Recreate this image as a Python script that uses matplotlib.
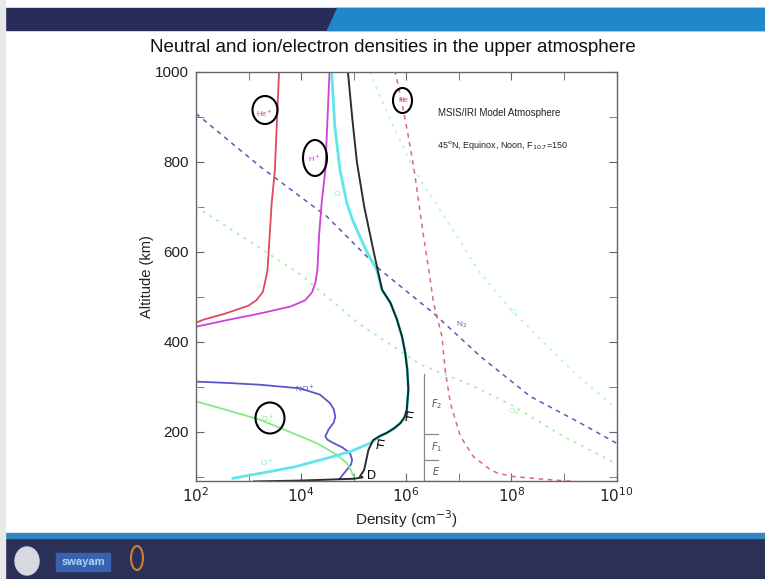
import matplotlib
matplotlib.use("Agg")
import matplotlib.pyplot as plt
import matplotlib.patches as mpatches
from matplotlib.ticker import FixedLocator, NullFormatter, FuncFormatter
import numpy as np

plt.rcParams['font.family'] = ['Liberation Sans', 'DejaVu Sans']

# ---------------- data (log10 density [cm^-3], altitude [km]) ----------------
ne_log = [3.1, 4.0, 5.0, 5.17, 5.12, 5.20, 5.28, 5.37, 5.50, 5.63, 5.78, 5.89, 5.97, 6.01, 6.04, 6.03, 6.02, 5.98, 5.92, 5.82, 5.70, 5.54, 5.38, 5.20, 5.06, 4.97, 4.89]
ne_alt = [89, 91, 95, 98, 100, 115, 159, 181, 190, 197, 208, 219, 232, 248, 293, 315, 337, 375, 411, 450, 486, 515, 600, 700, 800, 900, 1000]

op_log = [2.7, 3.27, 3.9, 4.5, 4.95, 5.33, 5.50, 5.63, 5.78, 5.89, 5.97, 6.01, 6.04, 6.03, 6.02, 5.98, 5.92, 5.82, 5.70, 5.54, 5.44, 5.27, 5.12, 4.98, 4.87, 4.74, 4.64, 4.58]
op_alt = [96, 108, 122, 141, 156, 175, 190, 197, 208, 219, 232, 248, 293, 315, 337, 375, 411, 450, 486, 515, 559, 595, 633, 670, 708, 781, 880, 1000]

hep_log = [2.0, 2.15, 2.55, 3.0, 3.15, 3.27, 3.31, 3.36, 3.40, 3.44, 3.50, 3.58]
hep_alt = [442, 449, 462, 480, 492, 510, 530, 559, 633, 708, 781, 1000]

hp_log = [2.0, 2.6, 3.2, 3.8, 4.08, 4.21, 4.27, 4.31, 4.34, 4.39, 4.46, 4.54]
hp_alt = [433, 448, 462, 478, 492, 510, 530, 559, 633, 708, 781, 1000]

nop_log = [4.74, 4.87, 4.95, 4.97, 4.93, 4.78, 4.62, 4.50, 4.46, 4.52, 4.62, 4.65, 4.62, 4.55, 4.36, 3.98, 3.22, 2.6, 2.0]
nop_alt = [96, 115, 127, 137, 152, 165, 174, 182, 189, 204, 220, 233, 250, 263, 282, 296, 304, 308, 311]

o2p_log = [5.0, 4.94, 4.87, 4.68, 4.30, 3.85, 3.22, 2.58, 2.0]
o2p_alt = [100, 116, 130, 148, 174, 196, 226, 248, 267]

he_log = [9.3, 8.6, 8.04, 7.75, 7.6, 7.28, 7.03, 6.84, 6.74, 6.68, 6.52, 6.43, 6.33, 6.24, 6.15, 6.04, 5.92, 5.79]
he_alt = [88, 94, 100, 107, 115, 144, 189, 263, 337, 411, 485, 559, 633, 708, 782, 856, 930, 1000]

n2_log = [2.0, 3.22, 4.49, 5.5, 6.52, 7.41, 8.36, 9.31, 10.0]
n2_alt = [907, 789, 678, 560, 463, 367, 278, 219, 174]

o_log = [5.3, 5.75, 6.15, 7.05, 7.36, 8.0, 8.6, 9.2, 10.0]
o_alt = [1000, 880, 781, 619, 559, 470, 400, 330, 250]

o2_log = [2.0, 3.98, 5.12, 6.27, 7.22, 8.05, 8.93, 9.92]
o2_alt = [700, 550, 438, 349, 304, 256, 193, 133]

x_tick_exps = [2, 4, 6, 8, 10]
y_ticks = [200, 400, 600, 800, 1000]
layer_names = ["$E$", "$F_1$", "$F_2$"]
layer_bounds = [90, 136, 195, 328]

W, H = 765, 579
fig = plt.figure(figsize=(W / 100, H / 100), dpi=100)
fig.patch.set_facecolor("white")


def fx(px):
    return px / W


def fy(py):
    return 1 - py / H


# ---------------- slide decoration ----------------
fig.patches.append(mpatches.Rectangle((0, fy(30)), 1, (30 - 8) / H, transform=fig.transFigure,
                                      color="#272d58", zorder=0))
fig.patches.append(mpatches.Polygon([(fx(337), fy(8)), (fx(765), fy(8)), (fx(765), fy(30)), (fx(327), fy(30))],
                                    closed=True, transform=fig.transFigure, color="#2088c8", zorder=0))
fig.patches.append(mpatches.Rectangle((0, fy(579)), 1, (579 - 537) / H, transform=fig.transFigure,
                                      color="#2b3058", zorder=0))
fig.patches.append(mpatches.Rectangle((0, fy(538)), 1, 5 / H, transform=fig.transFigure,
                                      color="#2f86c0", zorder=0))
fig.patches.append(mpatches.Rectangle((0, 0), 5 / W, 1, transform=fig.transFigure,
                                      color="#e8e8e8", zorder=0))
fig.patches.append(mpatches.Ellipse((fx(27), fy(561)), 24 / W, 28 / H, transform=fig.transFigure,
                                    color="#d8d8e0", zorder=1))
fig.patches.append(mpatches.Rectangle((fx(56), fy(571)), 54 / W, 18 / H, transform=fig.transFigure,
                                      color="#3a60b0", zorder=1))
fig.text(fx(83), fy(562), "swayam", color="#a8d8ff", fontsize=8, ha="center", va="center", fontweight="bold")
fig.patches.append(mpatches.Ellipse((fx(137), fy(558)), 12 / W, 24 / H, transform=fig.transFigure,
                                    fill=False, ec="#d08030", lw=1.5, zorder=1))

fig.text(0.514, fy(47), "Neutral and ion/electron densities in the upper atmosphere",
         ha="center", va="center", fontsize=13.5, color="#111111")

# ---------------- axes ----------------
ax = fig.add_axes([fx(196), fy(481), (616.5 - 196) / W, (481 - 71.7) / H])
ax.set_xscale("log")
ax.set_xlim(1e2, 1e10)
ax.set_ylim(90, 1000)


def P(lg):
    return 10 ** np.asarray(lg, dtype=float)


ax.plot(P(o_log), o_alt, color="#b0f4f4", lw=1.3, ls=(0, (1.5, 3)))
ax.plot(P(o2_log), o2_alt, color="#aaeeaa", lw=1.3, ls=(0, (1.5, 3)))
ax.plot(P(n2_log), n2_alt, color="#5a5ab8", lw=1.1, ls=(0, (3, 3)))
ax.plot(P(he_log), he_alt, color="#e06585", lw=1.1, ls=(0, (3, 3)))
ax.plot(P(hep_log), hep_alt, color="#e04860", lw=1.3)
ax.plot(P(hp_log), hp_alt, color="#d040d8", lw=1.3)
ax.plot(P(nop_log), nop_alt, color="#5858c8", lw=1.3)
ax.plot(P(o2p_log), o2p_alt, color="#88e888", lw=1.3)
ax.plot(P(op_log), op_alt, color="#60e6e6", lw=2.0)
ax.plot(P(ne_log), ne_alt, color="black", lw=1.4, alpha=0.82)

# layer brackets
xl = 10 ** (2 + (423.3 - 196) / 52.5)
xr = 10 ** (2 + (438 - 196) / 52.5)
ax.plot([xl, xl], [layer_bounds[0], layer_bounds[-1]], color="#888888", lw=0.9)
for b in layer_bounds[:-1]:
    ax.plot([xl, xr], [b, b], color="#888888", lw=0.9)
for i, name in enumerate(layer_names):
    ym = (layer_bounds[i] + layer_bounds[i + 1]) / 2
    ax.text(10 ** (2 + (436 - 196) / 52.5), ym, name, fontsize=7, family="DejaVu Serif",
            color="#555555", ha="center", va="center")

# axis styling
for s in ax.spines.values():
    s.set_color("#666666")
    s.set_linewidth(1.0)
ax.xaxis.set_major_locator(FixedLocator([10.0 ** e for e in x_tick_exps]))
ax.xaxis.set_minor_locator(FixedLocator([10.0 ** e for e in range(3, 10, 2)]))
ax.xaxis.set_minor_formatter(NullFormatter())
ax.xaxis.set_major_formatter(FuncFormatter(lambda v, p: r"$10^{%d}$" % round(np.log10(v))))
ax.yaxis.set_major_locator(FixedLocator(y_ticks))
ax.yaxis.set_minor_locator(FixedLocator(list(range(100, 1000, 100))))
ax.tick_params(which="both", direction="in", top=True, right=True, color="#666666",
               labelcolor="#222222")
ax.tick_params(which="major", length=6, labelsize=11)
ax.tick_params(which="minor", length=6)
ax.tick_params(axis="y", labelsize=11, pad=5)
ax.set_xlabel("Density (cm$^{-3}$)", fontsize=11, color="#222222", labelpad=3)
ax.set_ylabel("Altitude (km)", fontsize=10.5, color="#222222", labelpad=1)

# annotations
ax.text(10 ** (2 + (438 - 196) / 52.5), 1000 - (113 - 71.7) / 0.45, "MSIS/IRI Model Atmosphere",
        fontsize=7, color="#222222", va="center")
ax.text(10 ** (2 + (437 - 196) / 52.5), 1000 - (146 - 71.7) / 0.45,
        r"45$^{\rm o}$N, Equinox, Noon, F$_{10.7}$=150", fontsize=6.5, color="#222222", va="center")


def lab(px, py, s, c, fs=5.5):
    fig.text(fx(px), fy(py), s, color=c, fontsize=fs, ha="center", va="center")


lab(264, 113, "He$^+$", "#e04860")
lab(314, 158, "H$^+$", "#d040d8")
lab(403, 100, "He", "#e04860")
lab(268, 420, "O$_2^+$", "#88e888")
lab(305, 388, "NO$^+$", "#5858c8", 6)
lab(462, 325, "N$_2$", "#5a5ab8", 6)
lab(514, 312, "O", "#b0f4f4", 6)
lab(514, 412, "O$_2$", "#aaeeaa", 6)
lab(340, 193, "O$^+$", "#80eeee", 6)
lab(267, 462, "O$^+$", "#80eeee", 6)

for (cx, cy, w, h) in [(265, 110, 25, 28), (315, 158, 24, 36), (402.5, 100.5, 19, 25), (270, 418, 29, 31)]:
    fig.patches.append(mpatches.Ellipse((fx(cx), fy(cy)), w / W, h / H, transform=fig.transFigure,
                                        fill=False, ec="black", lw=1.5, zorder=5))

fig.text(fx(372), fy(476), "D", fontsize=9, color="black", ha="center", va="center")
fig.text(fx(380), fy(446), "F", fontsize=10, color="black", ha="center", va="center", rotation=-10)
fig.text(fx(409), fy(418), "F", fontsize=10, color="black", ha="center", va="center", rotation=-10)

fig.savefig("out.png", dpi=100)
